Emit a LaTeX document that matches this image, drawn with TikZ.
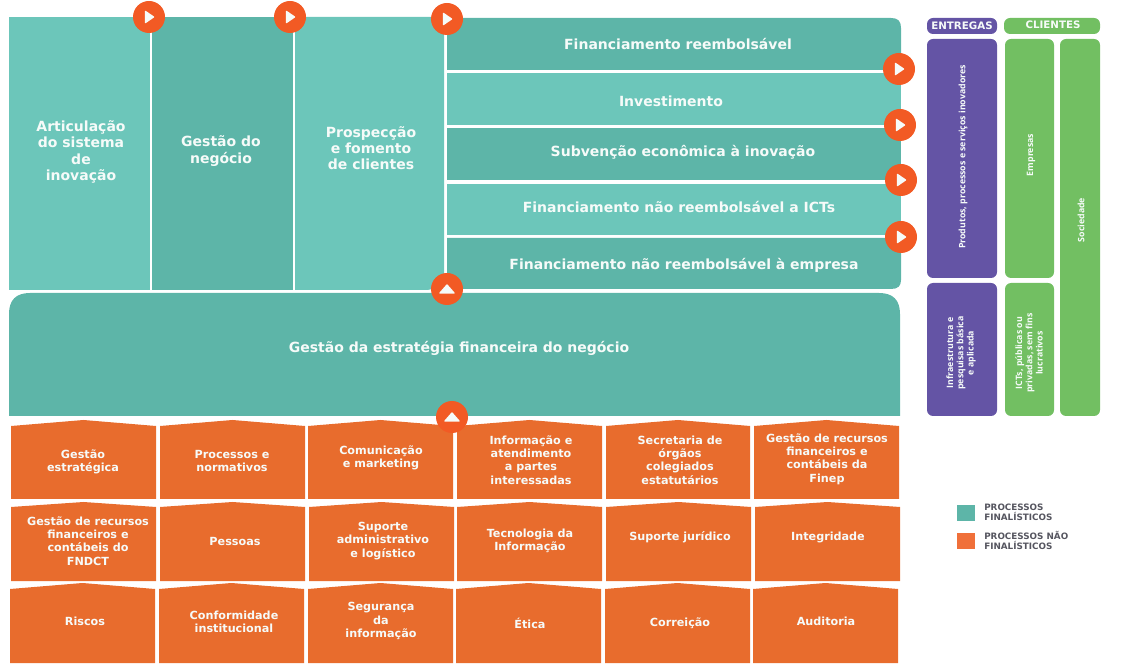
\documentclass[tikz,border=0pt]{standalone}
\usepackage{fontspec}
\setmainfont{DejaVu Sans}
\newfontfamily\sidefont{Open Sans}
\definecolor{teallight}{HTML}{6CC6BA}
\definecolor{tealdark}{HTML}{5DB5A8}
\definecolor{orangecell}{HTML}{E86C2D}
\definecolor{orangedot}{HTML}{F25A24}
\definecolor{violetbox}{HTML}{6454A5}
\definecolor{greenbox}{HTML}{72BF62}
\definecolor{softwhite}{HTML}{F6FBF9}
\definecolor{legendtext}{HTML}{55555F}
\definecolor{legendorange}{HTML}{F0703A}
\tikzset{
  x=0.75pt,y=-0.75pt,
  big/.style={inner sep=0pt,align=center,text=softwhite,font=\fontsize{10.5}{12.2}\selectfont\bfseries},
  small/.style={inner sep=0pt,align=center,text=softwhite,font=\fontsize{8.4}{10}\selectfont\bfseries},
  head/.style={inner sep=0pt,align=center,text=softwhite,font=\fontsize{7.7}{8}\selectfont\bfseries},
  side/.style={inner sep=0pt,align=center,text=softwhite,rotate=90,font=\sidefont\fontsize{6.6}{7.7}\selectfont\bfseries},
  legend/.style={inner sep=0pt,align=left,anchor=west,text=legendtext,font=\fontsize{6.6}{7.5}\selectfont\bfseries},
  dot/.style={circle,fill=orangedot,inner sep=0pt,minimum size=24pt},
  tri/.style={fill=softwhite,draw=softwhite,line width=1pt,line join=round},
  panelbox/.style={rounded corners=4.5pt},
}
\newcommand{\orangecellbox}[9]{%
  % name, x1, x2, apex, shoulder, bottom, textx, texty, text
  \fill[orangecell] (#2,#6) -- (#2,#5) -- ({(#2+#3)/2},#4) -- (#3,#5) -- (#3,#6) -- cycle;
  \node[small] (#1) at (#7,#8) {#9};
}
\newcommand{\playdot}[3]{%
  \node[dot] (#1) at (#2,#3) {};
  \fill[tri] ([shift={(-3.5,-5.5)}]#1.center) -- ([shift={(4.5,0)}]#1.center) -- ([shift={(-3.5,5.5)}]#1.center) -- cycle;
}
\newcommand{\updot}[3]{%
  \node[dot] (#1) at (#2,#3) {};
  \fill[tri] ([shift={(-7,4)}]#1.center) -- ([shift={(0,-4)}]#1.center) -- ([shift={(7,4)}]#1.center) -- cycle;
}
\begin{document}
\begin{tikzpicture}
\useasboundingbox (0,0) rectangle (1125,666);
% columns
\fill[teallight] (9,17) rectangle (150,290);
\fill[tealdark] (152,17) rectangle (293,290);
\fill[teallight] (295,17) -- (444,17) -- (444,274) .. controls (444,286) and (436,290) .. (424,290) -- (295,290) -- cycle;
% rows
\fill[tealdark] (447,70) -- (447,18) -- (891,18) .. controls (898,18) and (901,21) .. (901,28) -- (901,70) -- cycle;
\fill[teallight] (447,73) rectangle (901,125);
\fill[tealdark] (447,128) rectangle (901,180);
\fill[teallight] (447,184) rectangle (901,235);
\fill[tealdark] (447,238) -- (901,238) -- (901,280) .. controls (901,286) and (898,289) .. (891,289) -- (447,289) -- cycle;
% band
\fill[tealdark] (9,416) -- (9,314) .. controls (9,300) and (16,293) .. (30,293) -- (879,293) .. controls (893,293) and (900,300) .. (900,314) -- (900,416) -- cycle;
% texts
\node[big] (art) at (81,152) {Articulação\\do sistema\\de\\inovação};
\node[big] (neg) at (221,151) {Gestão do\\negócio};
\node[big] (pro) at (371,148) {Prospecção\\e fomento\\de clientes};
\node[big] (r1) at (678,44) {Financiamento reembolsável};
\node[big] (r2) at (671,101) {Investimento};
\node[big] (r3) at (683,152) {Subvenção econômica à inovação};
\node[big] (r4) at (679,207) {Financiamento não reembolsável a ICTs};
\node[big] (r5) at (684,265) {Financiamento não reembolsável à empresa};
\node[big] (est) at (459,348) {Gestão da estratégia financeira do negócio};
% orange cells, row 1
\orangecellbox{a1}{11}{156}{420}{426}{499}{83}{462}{Gestão\\estratégica}
\orangecellbox{a2}{160}{305}{420}{426}{499}{232}{461}{Processos e\\normativos}
\orangecellbox{a3}{308}{453}{420}{426}{499}{381}{458}{Comunicação\\e marketing}
\orangecellbox{a4}{457}{602}{420}{426}{499}{531}{460}{Informação e\\atendimento\\a partes\\interessadas}
\orangecellbox{a5}{606}{750}{420}{426}{499}{680}{460}{Secretaria de\\órgãos\\colegiados\\estatutários}
\orangecellbox{a6}{754}{899}{420}{426}{499}{827}{459}{Gestão de recursos\\financeiros e\\contábeis da\\Finep}
% row 2
\orangecellbox{b1}{11}{156}{502}{507}{581}{88}{541}{Gestão de recursos\\financeiros e\\contábeis do\\FNDCT}
\orangecellbox{b2}{160}{305}{502}{507}{581}{235}{541}{Pessoas}
\orangecellbox{b3}{309}{454}{502}{507}{581}{383}{541}{Suporte\\administrativo\\e logístico}
\orangecellbox{b4}{457}{602}{502}{507}{581}{530}{541}{Tecnologia da\\Informação}
\orangecellbox{b5}{606}{751}{502}{507}{581}{680}{537}{Suporte jurídico}
\orangecellbox{b6}{755}{900}{502}{507}{581}{828}{537}{Integridade}
% row 3
\orangecellbox{c1}{10}{155}{583}{589}{663}{85}{621}{Riscos}
\orangecellbox{c2}{159}{304}{583}{589}{663}{234}{622}{Conformidade\\institucional}
\orangecellbox{c3}{308}{453}{583}{589}{663}{381}{621}{Segurança\\da\\informação}
\orangecellbox{c4}{456}{601}{583}{589}{663}{530}{623}{Ética}
\orangecellbox{c5}{605}{750}{583}{589}{663}{680}{623}{Correição}
\orangecellbox{c6}{753}{898}{583}{589}{663}{826}{621}{Auditoria}
% dots
\playdot{p1}{149}{17}
\playdot{p2}{290}{17}
\playdot{p3}{447}{19}
\playdot{p4}{899}{69}
\playdot{p5}{900}{125}
\playdot{p6}{901}{180}
\playdot{p7}{901}{237}
\updot{u1}{447}{289}
\updot{u2}{452}{417}
% right columns
\fill[violetbox,panelbox] (927,18) rectangle (997,34);
\fill[greenbox,panelbox] (1004,18) rectangle (1100,34);
\fill[violetbox,panelbox] (927,39) rectangle (997,278);
\fill[violetbox,panelbox] (927,283) rectangle (997,416);
\fill[greenbox,panelbox] (1005,39) rectangle (1054,278);
\fill[greenbox,panelbox] (1005,283) rectangle (1054,416);
\fill[greenbox,panelbox] (1060,39) rectangle (1100,416);
\node[head] (ent) at (962,26) {ENTREGAS};
\node[head] (cli) at (1053,25) {CLIENTES};
\node[side] (s1) at (963,157) {Produtos, processos e serviços inovadores};
\node[side] (s2) at (961,353) {Infraestrutura e\\pesquisas básica\\e aplicada};
\node[side] (s3) at (1031,155) {Empresas};
\node[side] (s4) at (1029,353) {ICTs, públicas ou\\privadas, sem fins\\lucrativos};
\node[side] (s5) at (1081,220) {Sociedade};
% legend
\fill[tealdark] (957,505) rectangle (975,521);
\fill[legendorange] (957,533) rectangle (975,549);
\node[legend] (l1) at (984,512) {PROCESSOS\\FINALÍSTICOS};
\node[legend] (l2) at (984,540) {PROCESSOS NÃO\\FINALÍSTICOS};
\end{tikzpicture}
\end{document}
